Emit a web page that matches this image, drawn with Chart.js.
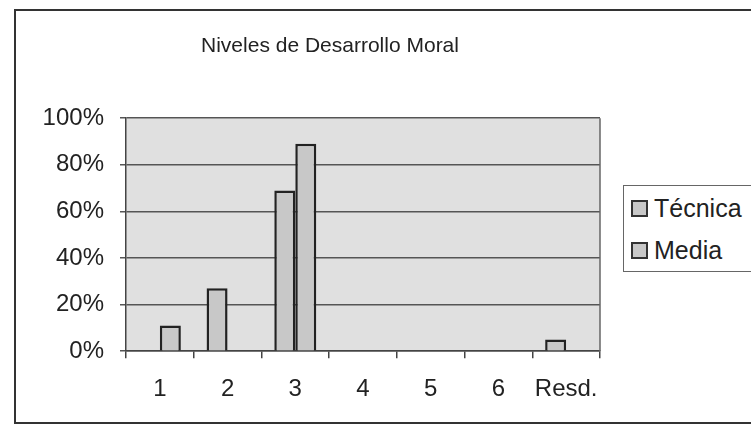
<!DOCTYPE html>
<html>
<head>
<meta charset="utf-8">
<script src="https://cdn.jsdelivr.net/npm/chart.js@4"></script>
<style>
  body { margin: 0; background: #fff; font-family: "Liberation Sans", Arial, sans-serif; }
  #wrap { position: relative; width: 751px; height: 432px; overflow: hidden; }
  #frame { position: absolute; left: 14px; top: 9px; width: 800px; height: 415px; border: 2px solid #333; box-sizing: border-box; }
  #chart { position: absolute; left: 0; top: 0; }
  #legend { position: absolute; left: 623px; top: 185px; width: 200px; height: 87px; border: 1px solid #666; box-sizing: border-box; background: #fff; }
  .item { position: absolute; left: 7px; font-size: 25px; color: #222; line-height: 28px; }
  .sw { display: inline-block; width: 13px; height: 13px; border: 2px solid #333; vertical-align: 0px; margin-right: 6px; }
</style>
</head>
<body>
<div id="wrap">
  <div id="frame"></div>
  <canvas id="chart" width="751" height="432"></canvas>
  <div id="legend"></div>
</div>
<script>
// Data (percentages)
const levels = ['1', '2', '3', '4', '5', '6', 'Resd.'];
const tecnica = [0, 27, 69, 0, 0, 0, 5];
const media = [11, 0, 89, 0, 0, 0, 0];
const seriesNames = ['Técnica', 'Media'];
const yTicks = [0, 20, 40, 60, 80, 100];

const barFill = '#c8c8c8';
const barEdge = '#222';

// plot area background and right edge, like the old Excel chart
const plotBackground = {
    id: 'plotBackground',
    afterLayout(chart) {
        // title in the original sits a bit right of the plot+axis centre
        chart.titleBlock.left += 15;
        chart.titleBlock.right += 15;
    },
    beforeDraw(chart) {
        const a = chart.chartArea;
        const ctx = chart.ctx;
        ctx.save();
        ctx.fillStyle = '#e0e0e0';
        ctx.fillRect(a.left, a.top, a.right - a.left, a.bottom - a.top);
        ctx.restore();
    },
    afterDatasetsDraw(chart) {
        const a = chart.chartArea;
        const ctx = chart.ctx;
        ctx.save();
        ctx.strokeStyle = '#666';
        ctx.lineWidth = 1.5;
        ctx.beginPath();
        ctx.moveTo(a.right, a.top);
        ctx.lineTo(a.right, a.bottom);
        ctx.stroke();
        ctx.restore();
    }
};

const ctx = document.getElementById('chart').getContext('2d');
const chart = new Chart(ctx, {
    type: 'bar',
    data: {
        labels: levels,
        datasets: [
            { label: seriesNames[0], data: tecnica, backgroundColor: barFill, borderColor: barEdge, borderWidth: 2.5, borderSkipped: 'bottom' },
            { label: seriesNames[1], data: media, backgroundColor: barFill, borderColor: barEdge, borderWidth: 2.5, borderSkipped: 'bottom' }
        ]
    },
    options: {
        responsive: false,
        animation: false,
        layout: { padding: { left: 30, right: 151, top: 10, bottom: 11 } },
        datasets: { bar: { categoryPercentage: 0.62, barPercentage: 1.0 } },
        plugins: {
            legend: { display: false },
            tooltip: { enabled: false },
            title: {
                display: true,
                text: 'Niveles de Desarrollo Moral',
                color: '#222',
                font: { family: 'Liberation Sans', size: 21, weight: 'normal' },
                padding: { top: 24, bottom: 59 }
            }
        },
        scales: {
            x: {
                grid: { drawOnChartArea: false, offset: true, tickLength: 7, color: '#444', lineWidth: 1.5 },
                border: { color: '#444', width: 1.5 },
                ticks: {
                    color: '#222', padding: 17, maxRotation: 0, minRotation: 0, autoSkip: false,
                    font: { family: 'Liberation Sans', size: 24 }
                }
            },
            y: {
                min: 0,
                max: 100,
                afterFit(scale) { scale.width = 96; },
                afterBuildTicks(scale) { scale.ticks = yTicks.map(v => ({ value: v })); },
                grid: { color: '#555', lineWidth: 1.5, tickLength: 6 },
                border: { color: '#444', width: 1.5 },
                ticks: {
                    color: '#222',
                    padding: 16,
                    font: { family: 'Liberation Sans', size: 24 },
                    callback: v => v + '%'
                }
            }
        }
    },
    plugins: [plotBackground]
});

// legend box built from the dataset labels
const legend = document.getElementById('legend');
chart.data.datasets.forEach((ds, i) => {
    const item = document.createElement('div');
    item.className = 'item';
    item.style.top = (8 + i * 42) + 'px';
    item.innerHTML = '<span class="sw" style="background:' + ds.backgroundColor + '"></span>' + ds.label;
    legend.appendChild(item);
});
</script>
</body>
</html>
